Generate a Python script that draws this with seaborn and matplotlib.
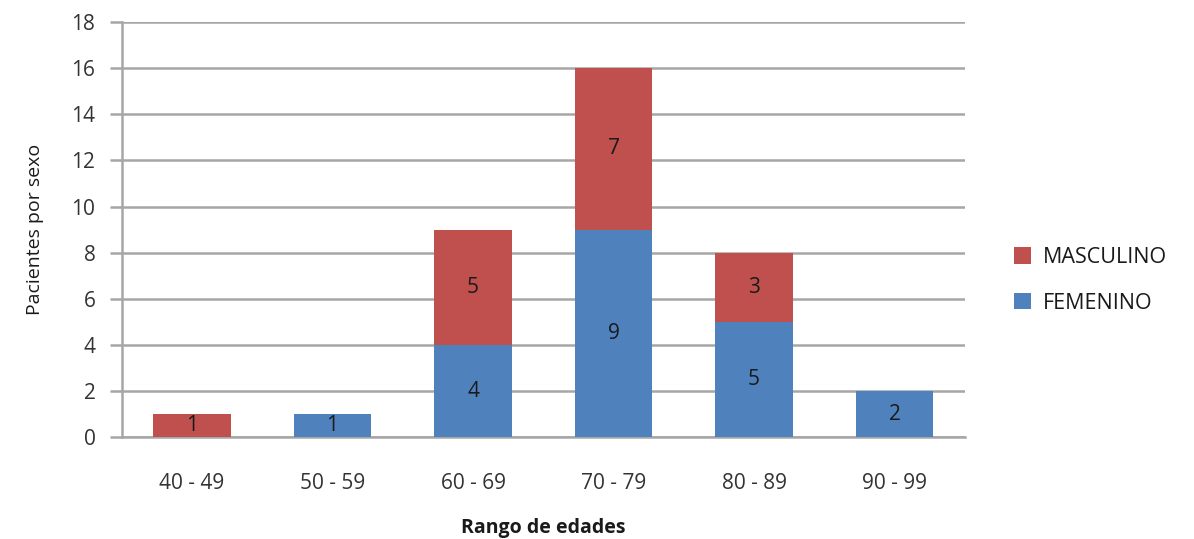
import matplotlib
matplotlib.use("Agg")
import matplotlib.pyplot as plt
import seaborn as sns
import numpy as np
from matplotlib.patches import Patch

rangos = ["40 - 49", "50 - 59", "60 - 69", "70 - 79", "80 - 89", "90 - 99"]
femenino = [0, 1, 4, 9, 5, 2]
masculino = [1, 0, 5, 7, 3, 0]
y_ticks = [0, 2, 4, 6, 8, 10, 12, 14, 16, 18]

COL_F = "#4F81BD"
COL_M = "#C0504D"
GRID = "#A6A6A6"

sns.set_theme(style="white")
plt.rcParams["font.family"] = ["Open Sans", "DejaVu Sans"]

fig = plt.figure(figsize=(11.94, 5.39), dpi=100)
ax = fig.add_axes([0.102, 0.189, 0.706, 0.770])

sns.barplot(x=rangos, y=femenino, color=COL_F, width=0.55, saturation=1,
            ax=ax, zorder=3, edgecolor="none")
sns.barplot(x=rangos, y=masculino, color=COL_M, width=0.55, saturation=1,
            bottom=femenino, ax=ax, zorder=3, edgecolor="none")

# value labels centred in each segment
for i, (f, m) in enumerate(zip(femenino, masculino)):
    if f > 0:
        ax.text(i, f / 2, str(f), ha="center", va="center", fontsize=15,
                color="#1a1a1a", zorder=4)
    if m > 0:
        ax.text(i, f + m / 2, str(m), ha="center", va="center", fontsize=15,
                color="#1a1a1a", zorder=4)

ax.set_ylim(0, 18)
ax.set_xlim(-0.5, len(rangos) - 0.5)
ax.set_yticks(y_ticks)
ax.yaxis.grid(True, color=GRID, linewidth=1.8, zorder=0)
ax.set_axisbelow(True)

for s in ["top", "right"]:
    ax.spines[s].set_visible(False)
ax.spines["left"].set_color(GRID)
ax.spines["left"].set_linewidth(1.8)
ax.spines["bottom"].set_color(GRID)
ax.spines["bottom"].set_linewidth(1.8)

ax.tick_params(axis="y", which="major", left=True, length=9, width=1.8,
               color=GRID, labelsize=15, labelcolor="#333333", pad=10)
ax.tick_params(axis="x", which="major", bottom=False, labelsize=15,
               labelcolor="#333333", pad=20)

ax.set_xlabel("Rango de edades", fontsize=14, fontweight="bold",
              color="#1a1a1a", labelpad=17)
ax.set_ylabel("Pacientes por sexo", fontsize=14, color="#1a1a1a", labelpad=20)

handles = [Patch(facecolor=COL_M, edgecolor="none", label="MASCULINO"),
           Patch(facecolor=COL_F, edgecolor="none", label="FEMENINO")]
fig.legend(handles=handles, loc="center left", bbox_to_anchor=(0.833, 0.48),
           frameon=False, fontsize=15.5, handlelength=0.8, handleheight=0.8,
           handletextpad=0.55, labelspacing=1.15, labelcolor="#1a1a1a")

fig.savefig("out.png", dpi=100)
